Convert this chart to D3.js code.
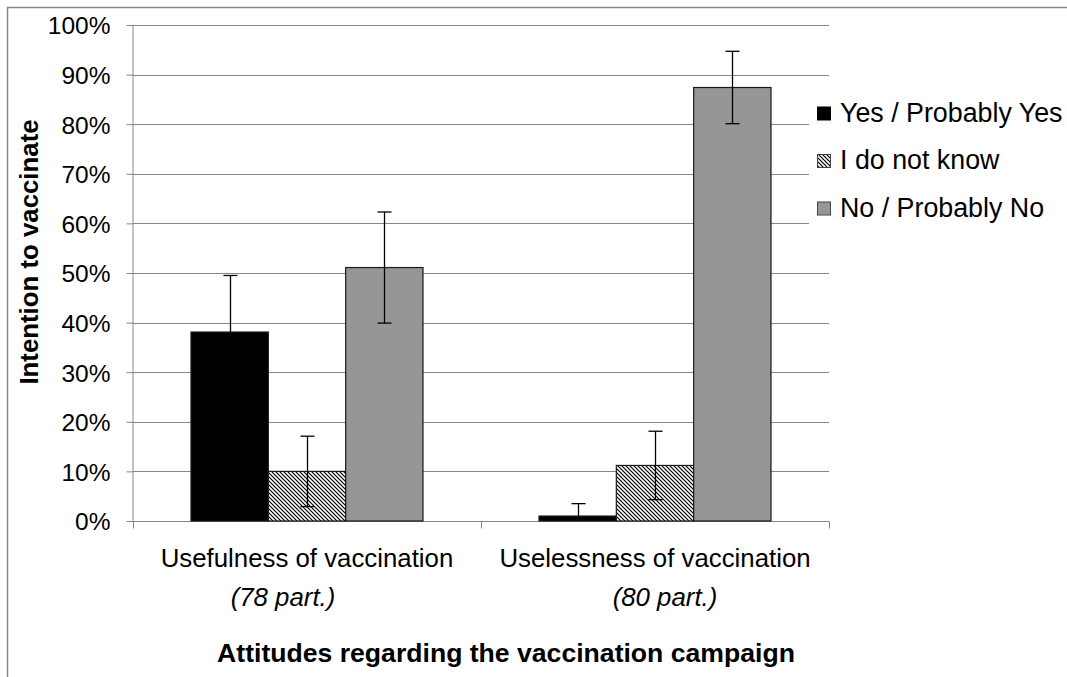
<!DOCTYPE html>
<html>
<head>
  <meta charset="utf-8">
  <title>Intention to vaccinate</title>
  <script src="https://d3js.org/d3.v7.min.js"></script>
  <style>
    body { margin: 0; background: #fff; }
    text { font-family: "Liberation Sans", Arial, sans-serif; fill: #000; }
  </style>
</head>
<body>
  <svg id="grafico"></svg>

  <script>
    // datos (fracciones)
    const categorias = ["Usefulness of vaccination", "Uselessness of vaccination"];
    const participantes = ["(78 part.)", "(80 part.)"];
    const series = ["Yes / Probably Yes", "I do not know", "No / Probably No"];
    const valores = [
      [0.381, 0.010],
      [0.100, 0.112],
      [0.511, 0.874]
    ];
    const errores = [
      [0.114, 0.025],
      [0.071, 0.069],
      [0.112, 0.073]
    ];
    const ticksY = [0, 0.1, 0.2, 0.3, 0.4, 0.5, 0.6, 0.7, 0.8, 0.9, 1];

    const W = 1067, H = 677;
    const izq = 133, der = 829, arriba = 25, abajo = 521;
    const gris = "#878787";
    const rellenos = ["#000000", "url(#rayas)", "#969696"];

    const svg = d3.select("#grafico")
      .attr("width", W)
      .attr("height", H);

    // patron rayado
    const patron = svg.append("defs").append("pattern")
      .attr("id", "rayas")
      .attr("patternUnits", "userSpaceOnUse")
      .attr("width", 4)
      .attr("height", 4);
    patron.append("rect").attr("width", 4).attr("height", 4).attr("fill", "#fff");
    patron.append("path")
      .attr("d", "M0,0L4,4M-1,3L1,5M3,-1L5,1")
      .attr("stroke", "#000")
      .attr("stroke-width", 1.2);

    // marco exterior
    svg.append("rect")
      .attr("x", 7.5).attr("y", 7.5)
      .attr("width", W + 20).attr("height", H + 20)
      .attr("fill", "none")
      .attr("stroke", gris)
      .attr("stroke-width", 1.5);

    const y = d3.scaleLinear().domain([0, 1]).range([abajo, arriba]);
    const x = d3.scaleBand().domain(categorias).range([izq, der]).padding(0);
    const xs = d3.scaleBand().domain(series).range([0, x.bandwidth()])
      .paddingInner(0).paddingOuter(0.75);

    // lineas de cuadricula
    svg.append("g")
      .selectAll("line")
      .data(ticksY.slice(1))
      .join("line")
      .attr("x1", izq).attr("x2", der)
      .attr("y1", d => Math.round(y(d)) + 0.5)
      .attr("y2", d => Math.round(y(d)) + 0.5)
      .attr("stroke", gris)
      .attr("stroke-width", 1);

    // eje Y
    const ejeY = svg.append("g")
      .attr("transform", `translate(${izq + 0.5},0)`)
      .call(d3.axisLeft(y).tickValues(ticksY).tickFormat(d3.format(".0%"))
        .tickSize(7).tickPadding(16));
    ejeY.select(".domain").attr("stroke", gris).attr("d", `M-0.5,${arriba}V${abajo}`);
    ejeY.selectAll(".tick line").attr("stroke", gris);
    ejeY.selectAll(".tick text")
      .style("font-size", "24.5px")
      .style("font-family", "'Liberation Sans', Arial, sans-serif")
      .attr("dy", "0.36em");

    // eje X
    const ejeX = svg.append("g")
      .attr("transform", `translate(0,${abajo + 0.5})`);
    ejeX.append("line")
      .attr("x1", izq).attr("x2", der)
      .attr("stroke", gris);
    ejeX.selectAll(".tk")
      .data([izq, izq + x.bandwidth(), der])
      .join("line")
      .attr("class", "tk")
      .attr("x1", d => d + 0.5).attr("x2", d => d + 0.5)
      .attr("y1", 0).attr("y2", 7)
      .attr("stroke", gris);

    const desplaz = [-24, 10];
    categorias.forEach((c, i) => {
      const cx = x(c) + x.bandwidth() / 2;
      svg.append("text")
        .attr("x", cx).attr("y", 567)
        .attr("text-anchor", "middle")
        .style("font-size", "25.8px")
        .text(c);
      svg.append("text")
        .attr("x", cx + desplaz[i]).attr("y", 606)
        .attr("text-anchor", "middle")
        .style("font-size", "25.8px")
        .style("font-style", "italic")
        .text(participantes[i]);
    });

    // barras
    const datos = [];
    series.forEach((s, si) => {
      categorias.forEach((c, ci) => {
        datos.push({ s, si, c, v: valores[si][ci], e: errores[si][ci] });
      });
    });

    svg.append("g")
      .selectAll("rect")
      .data(datos)
      .join("rect")
      .attr("x", d => x(d.c) + xs(d.s))
      .attr("y", d => y(d.v))
      .attr("width", xs.bandwidth())
      .attr("height", d => y(0) - y(d.v))
      .attr("fill", d => rellenos[d.si])
      .attr("stroke", "#1a1a1a")
      .attr("stroke-width", 1.2);

    // barras de error
    const gErr = svg.append("g")
      .attr("stroke", "#000")
      .attr("stroke-width", 1.3);
    datos.forEach(d => {
      const cx = Math.round(x(d.c) + xs(d.s) + xs.bandwidth() / 2) + 0.5;
      const alto = y(d.v + d.e);
      const bajoV = Math.max(0, d.v - d.e);
      const bajo = y(bajoV);
      gErr.append("line").attr("x1", cx).attr("x2", cx).attr("y1", alto).attr("y2", bajo);
      gErr.append("line").attr("x1", cx - 7).attr("x2", cx + 7).attr("y1", alto).attr("y2", alto);
      if (bajoV > 0) {
        gErr.append("line").attr("x1", cx - 7).attr("x2", cx + 7).attr("y1", bajo).attr("y2", bajo);
      }
    });

    // leyenda
    const leyenda = svg.append("g");
    leyenda.append("rect")
      .attr("x", 809).attr("y", 95)
      .attr("width", W - 809).attr("height", 140)
      .attr("fill", "#fff");
    series.forEach((s, i) => {
      const base = 121.5 + i * 47.5;
      leyenda.append("rect")
        .attr("x", 817.5).attr("y", base - 14.5)
        .attr("width", 13).attr("height", 13)
        .attr("fill", rellenos[i])
        .attr("stroke", i === 0 ? "#000" : "#444")
        .attr("stroke-width", 1);
      leyenda.append("text")
        .attr("x", 840).attr("y", base)
        .style("font-size", "26.8px")
        .text(s);
    });

    // titulos de ejes
    svg.append("text")
      .attr("x", 506).attr("y", 662)
      .attr("text-anchor", "middle")
      .style("font-size", "26.6px")
      .style("font-weight", "bold")
      .text("Attitudes regarding the vaccination campaign");

    svg.append("text")
      .attr("transform", "translate(38,252) rotate(-90)")
      .attr("text-anchor", "middle")
      .style("font-size", "25.8px")
      .style("font-weight", "bold")
      .text("Intention to vaccinate");
  </script>
</body>
</html>
